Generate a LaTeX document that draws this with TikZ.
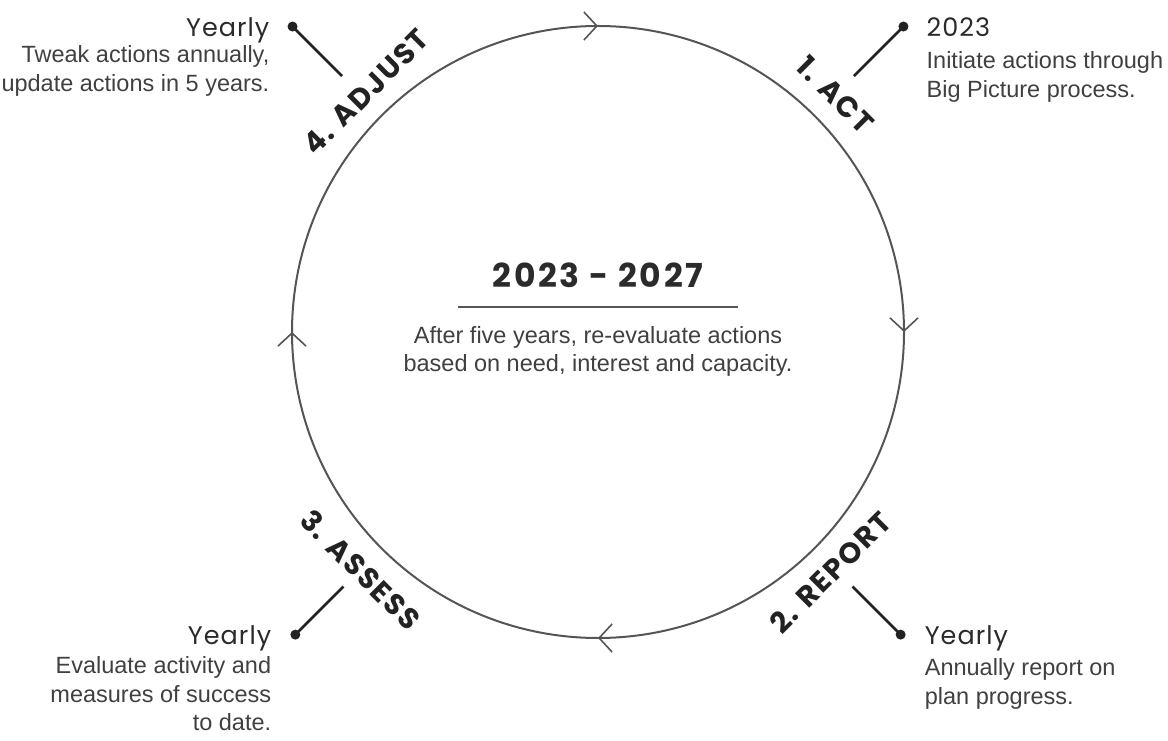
\documentclass[tikz,border=0pt]{standalone}
\usepackage{fontspec}
\setmainfont{Liberation Sans}
\newfontfamily\notefont{Liberation Sans}
\newfontfamily\whenfont{Poppins}[LetterSpace=4]
\newfontfamily\stagefont{Poppins}[LetterSpace=6]
\newfontfamily\spanfont{Poppins}[LetterSpace=8]
\usepackage{xcolor}
\usetikzlibrary{arrows.meta, positioning, calc, decorations.markings}

\definecolor{ringgray}{HTML}{555555}
\definecolor{pinink}{HTML}{222222}
\definecolor{headink}{HTML}{2B2B2B}
\definecolor{noteink}{HTML}{404040}

\begin{document}
\begin{tikzpicture}[
    x=1pt, y=1pt,
    ring/.style={draw=ringgray, line width=2pt, postaction={decorate},
        decoration={markings,
            mark=at position 0.125 with {\arrow[ringgray, line width=1.6pt]{Straight Barb[length=13pt, width=28pt]}},
            mark=at position 0.375 with {\arrow[ringgray, line width=1.6pt]{Straight Barb[length=13pt, width=28pt]}},
            mark=at position 0.625 with {\arrow[ringgray, line width=1.6pt]{Straight Barb[length=13pt, width=28pt]}},
            mark=at position 0.875 with {\arrow[ringgray, line width=1.6pt]{Straight Barb[length=13pt, width=28pt]}}}},
    rule/.style={draw=ringgray, line width=2.5pt},
    pin/.style={draw=pinink, line width=2.6pt},
    pindot/.style={circle, fill=pinink, inner sep=0pt, minimum size=10pt},
    stage/.style={font=\stagefont\bfseries\fontsize{29}{29}\selectfont, text=pinink, inner sep=0pt},
    when/.style={font=\whenfont\fontsize{25.5}{25.5}\selectfont, text=headink, inner sep=0pt},
    note/.style={font=\notefont\fontsize{23.5}{28.5}\selectfont, text=noteink, inner sep=0pt},
    span/.style={font=\spanfont\bfseries\fontsize{33}{33}\selectfont, text=headink, inner sep=0pt}
]
\useasboundingbox (0,0) rectangle (1168,740);

% --- Cycle ring ---
\coordinate (c) at (598,408);
\draw[ring] (c) ++(135:306) arc[start angle=135, end angle=-225, radius=306pt];

% --- Stage labels round the ring ---
\node[stage, rotate=-45] (act) at ($(c)+(45:336)$) {1. ACT};
\node[stage, rotate=45] (report) at ($(c)+(-46:334)$) {2. REPORT};
\node[stage, rotate=-45] (assess) at ($(c)+(225:336)$) {3. ASSESS};
\node[stage, rotate=45] (adjust) at ($(c)+(134:334)$) {4. ADJUST};

% --- Pins ---
\node[pindot] (dot1) at ($(c)+(45:432)$) {};
\node[pindot] (dot2) at ($(c)+(-45:428)$) {};
\node[pindot] (dot3) at ($(c)+(225:428)$) {};
\node[pindot] (dot4) at ($(c)+(135:432)$) {};
\coordinate (foot1) at ($(c)+(45:362)$);
\coordinate (foot2) at ($(c)+(-45:360)$);
\coordinate (foot3) at ($(c)+(225:360)$);
\coordinate (foot4) at ($(c)+(135:362)$);
\draw[pin] (foot1) -- (dot1.center);
\draw[pin] (foot2) -- (dot2.center);
\draw[pin] (foot3) -- (dot3.center);
\draw[pin] (foot4) -- (dot4.center);

% --- Pin texts ---
\node[when, anchor=base west] (when1) at ([xshift=23pt, yshift=-10pt]dot1.center) {2023};
\node[note, anchor=north west, align=left] (note1) at ([yshift=-15pt]when1.base west) {Initiate actions through\\Big Picture process.};

\node[when, anchor=base west] (when2) at ([xshift=24pt, yshift=-10pt]dot2.center) {Yearly};
\node[note, anchor=north west, align=left] (note2) at ([yshift=-14pt]when2.base west) {Annually report on\\plan progress.};

\node[when, anchor=base east] (when3) at ([xshift=-24pt, yshift=-10pt]dot3.center) {Yearly};
\node[note, anchor=north east, align=right] (note3) at ([yshift=-12pt]when3.base east) {Evaluate activity and\\measures of success\\to date.};

\node[when, anchor=base east] (when4) at ([xshift=-23pt, yshift=-10pt]dot4.center) {Yearly};
\node[note, anchor=north east, align=right] (note4) at ([yshift=-9pt]when4.base east) {Tweak actions annually,\\update actions in 5 years.};

% --- Centre ---
\node[span, anchor=base] (span) at (598,452) {2023 - 2027};
\coordinate (ruleL) at (458,433);
\coordinate (ruleR) at (738,433);
\draw[rule] (ruleL) -- (ruleR);
\node[note, anchor=north, align=center] (summary) at (598,414) {After five years, re-evaluate actions\\based on need, interest and capacity.};

\end{tikzpicture}
\end{document}
